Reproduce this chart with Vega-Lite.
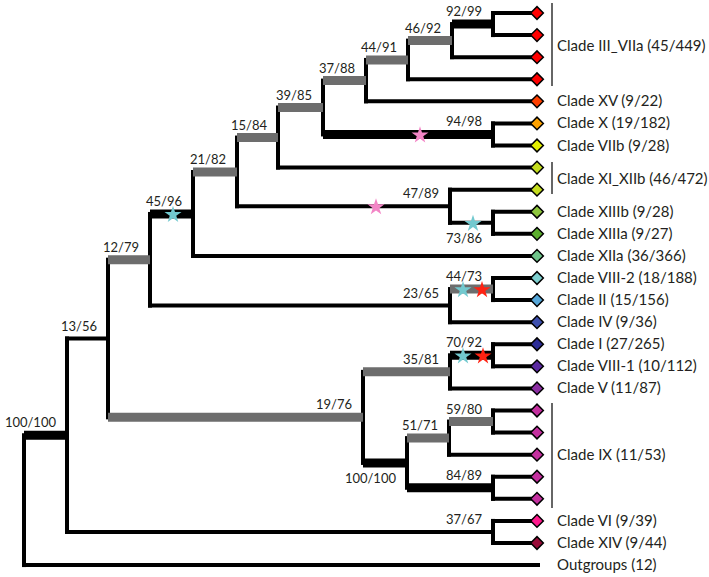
{
  "$schema": "https://vega.github.io/schema/vega-lite/v6.json",
  "width": 709,
  "height": 577,
  "autosize": {"type": "fit", "contains": "padding"},
  "padding": 0,
  "background": "white",
  "config": {"view": {"stroke": null}},
  "datasets": {
    "nodes": [
      {"id": "L0", "px": 493, "nx": 537, "y": 0, "kind": "normal", "clade": "III_VIIa"},
      {"id": "L1", "px": 493, "nx": 537, "y": 1, "kind": "normal", "clade": "III_VIIa"},
      {"id": "L2", "px": 452, "nx": 537, "y": 2, "kind": "normal", "clade": "III_VIIa"},
      {"id": "L3", "px": 408, "nx": 537, "y": 3, "kind": "normal", "clade": "III_VIIa"},
      {"id": "L4", "px": 366, "nx": 537, "y": 4, "kind": "normal", "clade": "XV"},
      {"id": "L5", "px": 493, "nx": 537, "y": 5, "kind": "normal", "clade": "X"},
      {"id": "L6", "px": 493, "nx": 537, "y": 6, "kind": "normal", "clade": "VIIb"},
      {"id": "L7", "px": 278, "nx": 537, "y": 7, "kind": "normal", "clade": "XI_XIIb"},
      {"id": "L8", "px": 450, "nx": 537, "y": 8, "kind": "normal", "clade": "XI_XIIb"},
      {"id": "L9", "px": 493, "nx": 537, "y": 9, "kind": "normal", "clade": "XIIIb"},
      {"id": "L10", "px": 493, "nx": 537, "y": 10, "kind": "normal", "clade": "XIIIa"},
      {"id": "L11", "px": 193, "nx": 537, "y": 11, "kind": "normal", "clade": "XIIa"},
      {"id": "L12", "px": 493, "nx": 537, "y": 12, "kind": "normal", "clade": "VIII-2"},
      {"id": "L13", "px": 493, "nx": 537, "y": 13, "kind": "normal", "clade": "II"},
      {"id": "L14", "px": 450, "nx": 537, "y": 14, "kind": "normal", "clade": "IV"},
      {"id": "L15", "px": 493, "nx": 537, "y": 15, "kind": "normal", "clade": "I"},
      {"id": "L16", "px": 493, "nx": 537, "y": 16, "kind": "normal", "clade": "VIII-1"},
      {"id": "L17", "px": 450, "nx": 537, "y": 17, "kind": "normal", "clade": "V"},
      {"id": "L18", "px": 493, "nx": 537, "y": 18, "kind": "normal", "clade": "IX"},
      {"id": "L19", "px": 493, "nx": 537, "y": 19, "kind": "normal", "clade": "IX"},
      {"id": "L20", "px": 449, "nx": 537, "y": 20, "kind": "normal", "clade": "IX"},
      {"id": "L21", "px": 493, "nx": 537, "y": 21, "kind": "normal", "clade": "IX"},
      {"id": "L22", "px": 493, "nx": 537, "y": 22, "kind": "normal", "clade": "IX"},
      {"id": "L23", "px": 493, "nx": 537, "y": 23, "kind": "normal", "clade": "VI"},
      {"id": "L24", "px": 493, "nx": 537, "y": 24, "kind": "normal", "clade": "XIV"},
      {"id": "L25", "px": 24, "nx": 538, "y": 25, "kind": "normal", "clade": "Outgroups"},
      {"id": "n92_99", "px": 452, "nx": 493, "y": 0.5, "ytop": 0, "ybot": 1, "kind": "thick", "label": "92/99", "lpos": "above"},
      {"id": "n46_92", "px": 408, "nx": 452, "y": 1.25, "ytop": 0.5, "ybot": 2, "kind": "gray", "label": "46/92", "lpos": "above"},
      {"id": "n44_91", "px": 366, "nx": 408, "y": 2.125, "ytop": 1.25, "ybot": 3, "kind": "gray", "label": "44/91", "lpos": "above"},
      {"id": "n37_88", "px": 323, "nx": 366, "y": 3.06, "ytop": 2.125, "ybot": 4, "kind": "gray", "label": "37/88", "lpos": "above"},
      {"id": "n94_98", "px": 323, "nx": 493, "y": 5.5, "ytop": 5, "ybot": 6, "kind": "thick", "label": "94/98", "lpos": "above"},
      {"id": "n39_85", "px": 278, "nx": 323, "y": 4.28, "ytop": 3.06, "ybot": 5.5, "kind": "gray", "label": "39/85", "lpos": "above"},
      {"id": "n15_84", "px": 237, "nx": 278, "y": 5.64, "ytop": 4.28, "ybot": 7, "kind": "gray", "label": "15/84", "lpos": "above"},
      {"id": "n73_86", "px": 450, "nx": 493, "y": 9.5, "ytop": 9, "ybot": 10, "kind": "normal", "label": "73/86", "lpos": "below"},
      {"id": "n47_89", "px": 237, "nx": 450, "y": 8.75, "ytop": 8, "ybot": 9.5, "kind": "normal", "label": "47/89", "lpos": "above"},
      {"id": "n21_82", "px": 193, "nx": 237, "y": 7.2, "ytop": 5.64, "ybot": 8.75, "kind": "gray", "label": "21/82", "lpos": "above"},
      {"id": "n45_96", "px": 150, "nx": 193, "y": 9.1, "ytop": 7.2, "ybot": 11, "kind": "thick", "label": "45/96", "lpos": "above"},
      {"id": "n44_73", "px": 450, "nx": 493, "y": 12.5, "ytop": 12, "ybot": 13, "kind": "gray", "label": "44/73", "lpos": "above"},
      {"id": "n23_65", "px": 150, "nx": 450, "y": 13.25, "ytop": 12.5, "ybot": 14, "kind": "normal", "label": "23/65", "lpos": "above"},
      {"id": "n12_79", "px": 108, "nx": 150, "y": 11.17, "ytop": 9.1, "ybot": 13.25, "kind": "gray", "label": "12/79", "lpos": "above"},
      {"id": "n70_92", "px": 450, "nx": 493, "y": 15.5, "ytop": 15, "ybot": 16, "kind": "thick", "label": "70/92", "lpos": "above"},
      {"id": "n35_81", "px": 363, "nx": 450, "y": 16.25, "ytop": 15.5, "ybot": 17, "kind": "gray", "label": "35/81", "lpos": "above"},
      {"id": "n59_80", "px": 449, "nx": 493, "y": 18.5, "ytop": 18, "ybot": 19, "kind": "gray", "label": "59/80", "lpos": "above"},
      {"id": "n51_71", "px": 407, "nx": 449, "y": 19.25, "ytop": 18.5, "ybot": 20, "kind": "gray", "label": "51/71", "lpos": "above"},
      {"id": "n84_89", "px": 407, "nx": 493, "y": 21.5, "ytop": 21, "ybot": 22, "kind": "thick", "label": "84/89", "lpos": "above"},
      {"id": "n100b", "px": 363, "nx": 407, "y": 20.375, "ytop": 19.25, "ybot": 21.5, "kind": "thick", "label": "100/100", "lpos": "below"},
      {"id": "n19_76", "px": 108, "nx": 363, "y": 18.31, "ytop": 16.25, "ybot": 20.375, "kind": "gray", "label": "19/76", "lpos": "above"},
      {"id": "n13_56", "px": 67, "nx": 108, "y": 14.74, "ytop": 11.17, "ybot": 18.31, "kind": "normal", "label": "13/56", "lpos": "above"},
      {"id": "n37_67", "px": 67, "nx": 493, "y": 23.5, "ytop": 23, "ybot": 24, "kind": "normal", "label": "37/67", "lpos": "above"},
      {"id": "n100a", "px": 24, "nx": 67, "y": 19.12, "ytop": 14.74, "ybot": 23.5, "kind": "thick", "label": "100/100", "lpos": "above"},
      {"id": "root", "nx": 24, "y": 22.06, "ytop": 19.12, "ybot": 25, "kind": "none"}
    ],
    "stars": [
      {"sx": 420, "sy": 5.5, "sc": "pink"},
      {"sx": 376, "sy": 8.75, "sc": "pink"},
      {"sx": 173, "sy": 9.1, "sc": "cyan"},
      {"sx": 473, "sy": 9.5, "sc": "cyan"},
      {"sx": 463, "sy": 12.5, "sc": "cyan"},
      {"sx": 482, "sy": 12.5, "sc": "red"},
      {"sx": 463, "sy": 15.5, "sc": "cyan"},
      {"sx": 483, "sy": 15.5, "sc": "red"}
    ],
    "clades": [
      {"text": "Clade III_VIIa (45/449)", "y": 1.5, "b0": -0.45, "b1": 3.3},
      {"text": "Clade XV (9/22)", "y": 4},
      {"text": "Clade X (19/182)", "y": 5},
      {"text": "Clade VIIb (9/28)", "y": 6},
      {"text": "Clade XI_XIIb (46/472)", "y": 7.5, "b0": 6.75, "b1": 8.2},
      {"text": "Clade XIIIb (9/28)", "y": 9},
      {"text": "Clade XIIIa (9/27)", "y": 10},
      {"text": "Clade XIIa (36/366)", "y": 11},
      {"text": "Clade VIII-2 (18/188)", "y": 12},
      {"text": "Clade II (15/156)", "y": 13},
      {"text": "Clade IV (9/36)", "y": 14},
      {"text": "Clade I (27/265)", "y": 15},
      {"text": "Clade VIII-1 (10/112)", "y": 16},
      {"text": "Clade V (11/87)", "y": 17},
      {"text": "Clade IX (11/53)", "y": 20, "b0": 17.66, "b1": 22.42},
      {"text": "Clade VI (9/39)", "y": 23},
      {"text": "Clade XIV (9/44)", "y": 24},
      {"text": "Outgroups (12)", "y": 25}
    ]
  },
  "layer": [
    {
      "data": {"name": "nodes"},
      "transform": [{"filter": "isValid(datum.ytop)"}],
      "mark": {"type": "rule", "color": "black", "strokeWidth": 4, "strokeCap": "square"},
      "encoding": {
        "x": {"field": "nx", "type": "quantitative", "scale": {"domain": [0, 709], "nice": false, "zero": false}, "axis": null},
        "y": {"field": "ytop", "type": "quantitative", "scale": {"domain": [-0.589, 25.54], "nice": false, "zero": false, "reverse": true}, "axis": null},
        "y2": {"field": "ybot"}
      }
    },
    {
      "data": {"name": "nodes"},
      "transform": [{"filter": "datum.kind == 'normal'"}],
      "mark": {"type": "rule", "color": "black", "strokeWidth": 4, "strokeCap": "square"},
      "encoding": {
        "x": {"field": "px", "type": "quantitative", "scale": {"domain": [0, 709], "nice": false, "zero": false}, "axis": null},
        "x2": {"field": "nx"},
        "y": {"field": "y", "type": "quantitative", "scale": {"domain": [-0.589, 25.54], "nice": false, "zero": false, "reverse": true}, "axis": null}
      }
    },
    {
      "data": {"name": "nodes"},
      "transform": [{"filter": "datum.kind == 'thick'"}],
      "mark": {"type": "rule", "color": "black", "strokeWidth": 9, "strokeCap": "butt"},
      "encoding": {
        "x": {"field": "px", "type": "quantitative", "scale": {"domain": [0, 709], "nice": false, "zero": false}, "axis": null},
        "x2": {"field": "nx"},
        "y": {"field": "y", "type": "quantitative", "scale": {"domain": [-0.589, 25.54], "nice": false, "zero": false, "reverse": true}, "axis": null}
      }
    },
    {
      "data": {"name": "nodes"},
      "transform": [{"filter": "datum.kind == 'gray'"}],
      "mark": {"type": "rule", "color": "#6d6d6d", "strokeWidth": 9, "strokeCap": "butt"},
      "encoding": {
        "x": {"field": "px", "type": "quantitative", "scale": {"domain": [0, 709], "nice": false, "zero": false}, "axis": null},
        "x2": {"field": "nx"},
        "y": {"field": "y", "type": "quantitative", "scale": {"domain": [-0.589, 25.54], "nice": false, "zero": false, "reverse": true}, "axis": null}
      }
    },
    {
      "data": {"name": "stars"},
      "mark": {"type": "point", "filled": true, "opacity": 1, "size": 320, "shape": "M0,-0.905L0.2245,-0.214L0.9511,-0.214L0.3633,0.213L0.5878,0.904L0,0.477L-0.5878,0.904L-0.3633,0.213L-0.9511,-0.214L-0.2245,-0.214Z"},
      "encoding": {
        "x": {"field": "sx", "type": "quantitative", "scale": {"domain": [0, 709], "nice": false, "zero": false}, "axis": null},
        "y": {"field": "sy", "type": "quantitative", "scale": {"domain": [-0.589, 25.54], "nice": false, "zero": false, "reverse": true}, "axis": null},
        "color": {"field": "sc", "type": "nominal", "scale": {"domain": ["pink", "cyan", "red"], "range": ["#f385c6", "#72c9cf", "#ff2212"]}, "legend": null}
      }
    },
    {
      "data": {"name": "nodes"},
      "transform": [{"filter": "isValid(datum.clade) && datum.clade != 'Outgroups'"}],
      "mark": {"type": "point", "shape": "diamond", "filled": true, "opacity": 1, "size": 160, "stroke": "black", "strokeWidth": 1.5},
      "encoding": {
        "x": {"field": "nx", "type": "quantitative", "scale": {"domain": [0, 709], "nice": false, "zero": false}, "axis": null},
        "y": {"field": "y", "type": "quantitative", "scale": {"domain": [-0.589, 25.54], "nice": false, "zero": false, "reverse": true}, "axis": null},
        "fill": {"field": "clade", "type": "nominal", "scale": {"domain": ["III_VIIa", "XV", "X", "VIIb", "XI_XIIb", "XIIIb", "XIIIa", "XIIa", "VIII-2", "II", "IV", "I", "VIII-1", "V", "IX", "VI", "XIV"], "range": ["#ff0000", "#ff4000", "#ffa200", "#e3ef00", "#c4dc1e", "#8ec63e", "#5cae2e", "#6fc48a", "#7ed0d0", "#55a6d8", "#3e50ae", "#2c2c97", "#5b2aa0", "#8b2ea2", "#c4309f", "#ff1a8d", "#980b38"]}, "legend": null}
      }
    },
    {
      "data": {"name": "nodes"},
      "transform": [{"filter": "datum.lpos == 'above'"}],
      "mark": {"type": "text", "align": "right", "baseline": "middle", "dx": -11, "dy": -12, "font": "Lato", "fontSize": 13, "color": "#231f20"},
      "encoding": {
        "x": {"field": "nx", "type": "quantitative", "scale": {"domain": [0, 709], "nice": false, "zero": false}, "axis": null},
        "y": {"field": "y", "type": "quantitative", "scale": {"domain": [-0.589, 25.54], "nice": false, "zero": false, "reverse": true}, "axis": null},
        "text": {"field": "label"}
      }
    },
    {
      "data": {"name": "nodes"},
      "transform": [{"filter": "datum.lpos == 'below'"}],
      "mark": {"type": "text", "align": "right", "baseline": "middle", "dx": -11, "dy": 16, "font": "Lato", "fontSize": 13, "color": "#231f20"},
      "encoding": {
        "x": {"field": "nx", "type": "quantitative", "scale": {"domain": [0, 709], "nice": false, "zero": false}, "axis": null},
        "y": {"field": "y", "type": "quantitative", "scale": {"domain": [-0.589, 25.54], "nice": false, "zero": false, "reverse": true}, "axis": null},
        "text": {"field": "label"}
      }
    },
    {
      "data": {"name": "clades"},
      "transform": [{"filter": "isValid(datum.b0)"}],
      "mark": {"type": "rule", "color": "#333333", "strokeWidth": 1.5},
      "encoding": {
        "x": {"datum": 552, "type": "quantitative", "scale": {"domain": [0, 709], "nice": false, "zero": false}, "axis": null},
        "y": {"field": "b0", "type": "quantitative", "scale": {"domain": [-0.589, 25.54], "nice": false, "zero": false, "reverse": true}, "axis": null},
        "y2": {"field": "b1"}
      }
    },
    {
      "data": {"name": "clades"},
      "mark": {"type": "text", "align": "left", "baseline": "middle", "font": "Lato", "fontSize": 15, "color": "#231f20"},
      "encoding": {
        "x": {"datum": 557, "type": "quantitative", "scale": {"domain": [0, 709], "nice": false, "zero": false}, "axis": null},
        "y": {"field": "y", "type": "quantitative", "scale": {"domain": [-0.589, 25.54], "nice": false, "zero": false, "reverse": true}, "axis": null},
        "text": {"field": "text"}
      }
    }
  ]
}
